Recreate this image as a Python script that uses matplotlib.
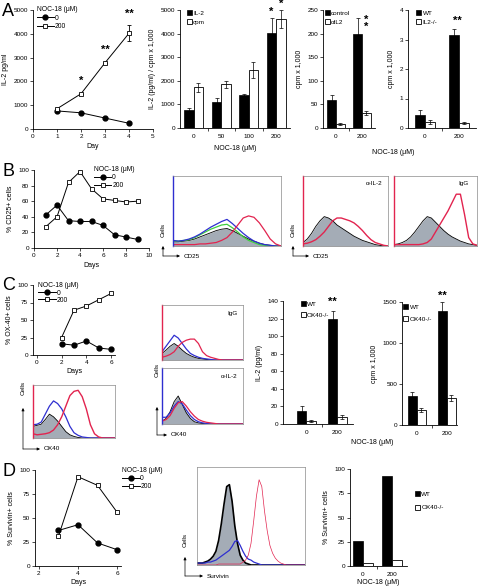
import numpy as np
import matplotlib
matplotlib.use('Agg')
import matplotlib.pyplot as plt
from matplotlib.patches import Patch
from matplotlib.lines import Line2D

plt.rcParams['font.family'] = ['Liberation Sans', 'DejaVu Sans']

W, H = 479, 588

# ---- panel A data ----
a1_days = [1, 2, 3, 4]
a1_noc0 = [760, 680, 460, 240]
a1_noc200 = [850, 1480, 2780, 4020]
a1_err200 = [0, 0, 0, 330]

a2_groups = ['0', '50', '100', '200']
a2_il2 = [750, 1090, 1380, 4010]
a2_il2_err = [80, 190, 40, 650]
a2_cpm = [1720, 1850, 2450, 4620]
a2_cpm_err = [200, 150, 330, 380]

a3_groups = ['0', '200']
a3_ctrl = [60, 200]
a3_ctrl_err = [10, 34]
a3_anti = [8, 31]
a3_anti_err = [2, 4]

a4_groups = ['0', '200']
a4_wt = [0.45, 3.15]
a4_wt_err = [0.15, 0.2]
a4_ko = [0.2, 0.17]
a4_ko_err = [0.08, 0.03]

# ---- panel B data ----
b1_days = [1, 2, 3, 4, 5, 6, 7, 8, 9]
b1_noc0 = [42, 55, 35, 34, 34, 29, 17, 14, 11]
b1_noc200 = [27, 40, 84, 98, 76, 63, 61, 59, 60]

# flow histograms, heights on a 21-channel grid
b2_gray = [0.06, 0.06, 0.07, 0.08, 0.10, 0.13, 0.16, 0.19, 0.22, 0.24, 0.25, 0.22, 0.18, 0.14, 0.10, 0.07, 0.04, 0.02, 0.01, 0, 0]
b2_blue = [0.08, 0.07, 0.08, 0.10, 0.13, 0.17, 0.22, 0.27, 0.31, 0.35, 0.38, 0.32, 0.25, 0.18, 0.12, 0.07, 0.04, 0.02, 0.01, 0, 0]
b2_green = [0.07, 0.07, 0.08, 0.09, 0.12, 0.16, 0.20, 0.24, 0.27, 0.30, 0.31, 0.26, 0.20, 0.13, 0.08, 0.05, 0.02, 0.01, 0, 0, 0]
b2_red = [0.02, 0.02, 0.02, 0.02, 0.02, 0.03, 0.03, 0.04, 0.05, 0.08, 0.12, 0.20, 0.30, 0.40, 0.43, 0.41, 0.33, 0.22, 0.10, 0.03, 0]
b3_gray = [0.05, 0.10, 0.18, 0.28, 0.36, 0.42, 0.40, 0.36, 0.30, 0.26, 0.22, 0.18, 0.14, 0.11, 0.08, 0.06, 0.04, 0.02, 0.01, 0, 0]
b3_red = [0.03, 0.04, 0.06, 0.09, 0.14, 0.20, 0.28, 0.36, 0.40, 0.40, 0.38, 0.36, 0.33, 0.28, 0.22, 0.15, 0.09, 0.05, 0.03, 0.01, 0]
b4_gray = [0.02, 0.03, 0.05, 0.08, 0.13, 0.20, 0.28, 0.36, 0.42, 0.40, 0.34, 0.28, 0.22, 0.17, 0.13, 0.10, 0.07, 0.05, 0.03, 0.02, 0.01]
b4_red = [0.02, 0.02, 0.02, 0.02, 0.02, 0.02, 0.02, 0.03, 0.05, 0.10, 0.20, 0.30, 0.40, 0.50, 0.62, 0.74, 0.74, 0.45, 0.12, 0.03, 0.01]

# ---- panel C data ----
c1_days = [2, 3, 4, 5, 6]
c1_noc0 = [16, 14, 20, 10, 8]
c1_noc200 = [25, 64, 70, 79, 88]

c2_gray = [0.22, 0.24, 0.26, 0.35, 0.45, 0.40, 0.32, 0.22, 0.12, 0.06, 0.03, 0.01, 0, 0, 0, 0, 0, 0, 0, 0, 0]
c2_blue = [0.25, 0.26, 0.30, 0.45, 0.60, 0.70, 0.65, 0.55, 0.40, 0.22, 0.10, 0.05, 0.02, 0.01, 0, 0, 0, 0, 0, 0, 0]
c2_red = [0.08, 0.06, 0.07, 0.08, 0.10, 0.15, 0.25, 0.40, 0.60, 0.80, 0.88, 0.90, 0.78, 0.55, 0.25, 0.08, 0.02, 0, 0, 0, 0]
c3_gray = [0.12, 0.18, 0.25, 0.30, 0.25, 0.18, 0.12, 0.08, 0.05, 0.03, 0.02, 0.01, 0, 0, 0, 0, 0, 0, 0, 0, 0]
c3_blue = [0.15, 0.25, 0.35, 0.45, 0.40, 0.30, 0.20, 0.12, 0.08, 0.05, 0.03, 0.02, 0.01, 0, 0, 0, 0, 0, 0, 0, 0]
c3_red = [0.05, 0.07, 0.10, 0.15, 0.25, 0.32, 0.36, 0.38, 0.38, 0.30, 0.15, 0.08, 0.05, 0.03, 0.01, 0, 0, 0, 0, 0, 0]
c4_gray = [0.05, 0.10, 0.22, 0.40, 0.50, 0.35, 0.20, 0.10, 0.04, 0.02, 0.01, 0, 0, 0, 0, 0, 0, 0, 0, 0, 0]
c4_blue = [0.12, 0.12, 0.20, 0.32, 0.40, 0.36, 0.25, 0.15, 0.08, 0.04, 0.02, 0.01, 0, 0, 0, 0, 0, 0, 0, 0, 0]
c4_red = [0.05, 0.08, 0.15, 0.28, 0.38, 0.40, 0.32, 0.22, 0.14, 0.08, 0.05, 0.03, 0.02, 0.01, 0, 0, 0, 0, 0, 0, 0]

c5_groups = ['0', '200']
c5_wt = [15, 119]
c5_wt_err = [6, 10]
c5_ko = [3, 8]
c5_ko_err = [1, 2]

c6_groups = ['0', '200']
c6_wt = [355, 1390]
c6_wt_err = [45, 105]
c6_ko = [180, 325]
c6_ko_err = [25, 35]

# ---- panel D data ----
d1_days = [3, 4, 5, 6]
d1_noc0 = [37, 43, 24, 17]
d1_noc200 = [31, 93, 84, 56]

# 41-channel grid
d2_gray = [0.02, 0.02, 0.02, 0.03, 0.04, 0.06, 0.09, 0.14, 0.25, 0.42, 0.62, 0.80, 0.82, 0.65, 0.40, 0.22, 0.10, 0.05, 0.02, 0.01,
           0, 0, 0, 0, 0, 0, 0, 0, 0, 0, 0, 0, 0, 0, 0, 0, 0, 0, 0, 0, 0]
d2_blue = [0.02, 0.02, 0.02, 0.02, 0.03, 0.03, 0.04, 0.05, 0.07, 0.09, 0.11, 0.13, 0.15, 0.19, 0.24, 0.25, 0.20, 0.14, 0.09, 0.06,
           0.05, 0.03, 0.02, 0.01, 0, 0, 0, 0, 0, 0, 0, 0, 0, 0, 0, 0, 0, 0, 0, 0, 0]
d2_red = [0, 0, 0, 0, 0, 0, 0, 0, 0.01, 0.01, 0.01, 0.01, 0.01, 0.01, 0.01, 0.01, 0.01, 0.03, 0.05, 0.10,
          0.22, 0.45, 0.70, 0.87, 0.80, 0.55, 0.35, 0.20, 0.12, 0.07, 0.04, 0.02, 0.01, 0, 0, 0, 0, 0, 0, 0, 0]

d3_groups = ['0', '200']
d3_wt = [26, 93]
d3_ko = [3, 6]

GRAY = '#a4acb6'
RED = '#e2244f'
BLUE = '#2f2fd0'
GREEN = '#3ecf3e'
FS = 4.6


def rect(l, t, r, b):
    return [l / W, 1 - b / H, (r - l) / W, (b - t) / H]


def style(ax):
    for s in ['top', 'right']:
        ax.spines[s].set_visible(False)
    for s in ['left', 'bottom']:
        ax.spines[s].set_linewidth(0.6)
    ax.tick_params(length=2, width=0.5, labelsize=FS, pad=1.5)


def line_panel(ax, days, y0, y200, err200=None):
    style(ax)
    ax.plot(days, y0, color='k', lw=0.7, marker='o', mfc='k', mec='k', ms=3.5, clip_on=False)
    ax.errorbar(days, y200, yerr=err200, color='k', lw=0.7, marker='s', mfc='w', mec='k', ms=3.5,
                mew=0.6, elinewidth=0.6, capsize=1.5, capthick=0.6, clip_on=False)


def line_legend(ax, anchor, spacing=0.2):
    h0 = Line2D([], [], color='k', lw=0.7, marker='o', mfc='k', mec='k', ms=3.5)
    h2 = Line2D([], [], color='k', lw=0.7, marker='s', mfc='w', mec='k', ms=3.5, mew=0.6)
    ax.legend([h0, h2], ['0', '200'], title='NOC-18 (μM)', loc='upper left', bbox_to_anchor=anchor,
              frameon=False, fontsize=FS + 0.3, title_fontsize=FS + 0.3, handlelength=2.6,
              handletextpad=0.1, borderaxespad=0, borderpad=0, labelspacing=spacing, alignment='left')


def bar_panel(ax, labels, vb, eb, vw, ew, w):
    style(ax)
    x = np.arange(len(labels))
    ek = dict(ecolor='k', elinewidth=0.5, capsize=1.4, capthick=0.5)
    ax.bar(x - w / 2, vb, w, color='k', edgecolor='k', lw=0.5, yerr=eb, error_kw=ek)
    ax.bar(x + w / 2, vw, w, color='w', edgecolor='k', lw=0.6, yerr=ew, error_kw=ek)
    ax.set_xticks(x)
    ax.set_xticklabels(labels)
    ax.tick_params(axis='x', length=0, pad=4)
    ax.set_xticks(x[:-1] + 0.5, minor=True)
    ax.tick_params(axis='x', which='minor', length=2, width=0.5)


def bar_legend(ax, names, anchor, spacing=0.5):
    hs = [Patch(facecolor='k', edgecolor='k', lw=0.5), Patch(facecolor='w', edgecolor='k', lw=0.6)]
    ax.legend(hs, names, loc='upper left', bbox_to_anchor=anchor, frameon=False, fontsize=FS,
              handlelength=0.8, handleheight=0.8, handletextpad=0.2, borderaxespad=0, borderpad=0,
              labelspacing=spacing)


def flow(ax, gray, lines, edge=None, gray_lw=0.6):
    ch = np.linspace(0, 1, len(gray))
    ax.fill_between(ch, gray, color=GRAY, lw=0)
    ax.plot(ch, gray, color='k', lw=gray_lw)
    for ys, c, lw in lines:
        ax.plot(np.linspace(0, 1, len(ys)), ys, color=c, lw=lw)
    ax.set_xlim(0, 1)
    ax.set_ylim(0, 1)
    ax.set_xticks([])
    ax.set_yticks([])
    for s in ax.spines.values():
        s.set_color('#8a8a8a')
        s.set_linewidth(0.5)
    if edge:
        ax.spines['left'].set_color(edge)
        ax.spines['left'].set_linewidth(1.0)


fig = plt.figure(figsize=(W / 100, H / 100), dpi=100)

# ---------------- A ----------------
ax = fig.add_axes(rect(33, 10, 153, 129))
line_panel(ax, a1_days, a1_noc0, a1_noc200, a1_err200)
ax.set_xlim(0, 5)
ax.set_ylim(0, 5000)
ax.set_xticks(range(6))
ax.set_yticks(range(0, 5001, 1000))
ax.set_xlabel('Day', fontsize=FS + 0.4, labelpad=3)
ax.set_ylabel('IL-2 pg/ml', fontsize=FS + 0.4, labelpad=3)
for xs, ys, s in [(2, 1800, '*'), (3, 3100, '**'), (4, 4620, '**')]:
    ax.text(xs, ys, s, ha='center', va='bottom', fontsize=8, fontweight='bold')
line_legend(ax, (0.03, 1.03))

ax = fig.add_axes(rect(180, 10, 290, 128))
bar_panel(ax, a2_groups, a2_il2, a2_il2_err, a2_cpm, a2_cpm_err, 0.34)
ax.set_xlim(-0.5, 3.5)
ax.set_ylim(0, 5000)
ax.set_yticks(range(0, 5001, 1000))
ax.set_ylabel('IL-2 (pg/ml) / cpm x 1,000', fontsize=FS + 0.4, labelpad=3)
ax.set_xlabel('NOC-18 (μM)', fontsize=FS + 0.4, labelpad=5)
ax.text(3 - 0.17, 4720, '*', ha='center', va='bottom', fontsize=8, fontweight='bold', clip_on=False)
ax.text(3 + 0.17, 5050, '*', ha='center', va='bottom', fontsize=8, fontweight='bold', clip_on=False)
bar_legend(ax, ['IL-2', 'cpm'], (0.06, 1.0))

ax = fig.add_axes(rect(323, 10, 375, 128))
bar_panel(ax, a3_groups, a3_ctrl, a3_ctrl_err, a3_anti, a3_anti_err, 0.34)
ax.set_xlim(-0.5, 1.5)
ax.set_ylim(0, 250)
ax.set_yticks(range(0, 251, 50))
ax.set_ylabel('cpm x 1,000', fontsize=FS + 0.4, labelpad=3)
ax.text(1.15, 204, '*\n*', ha='center', va='bottom', fontsize=8, fontweight='bold', linespacing=0.55)
bar_legend(ax, ['control', 'αIL2'], (0.03, 1.0))

ax = fig.add_axes(rect(408, 10, 476, 128))
bar_panel(ax, a4_groups, a4_wt, a4_wt_err, a4_ko, a4_ko_err, 0.3)
ax.set_xlim(-0.5, 1.5)
ax.set_ylim(0, 4)
ax.set_yticks(range(0, 5))
ax.set_ylabel('cpm x 1,000', fontsize=FS + 0.4, labelpad=3)
ax.text(0.95, 3.45, '**', ha='center', va='bottom', fontsize=8, fontweight='bold')
bar_legend(ax, ['WT', 'IL2-/-'], (0.12, 1.0))

# ---------------- B ----------------
ax = fig.add_axes(rect(34, 170, 149, 248))
line_panel(ax, b1_days, b1_noc0, b1_noc200)
ax.set_xlim(0, 10)
ax.set_ylim(0, 100)
ax.set_xticks(range(0, 11, 2))
ax.set_yticks(range(0, 101, 20))
ax.set_xlabel('Days', fontsize=FS + 0.4, labelpad=3)
ax.set_ylabel('% CD25+ cells', fontsize=FS + 0.4, labelpad=3)
line_legend(ax, (0.52, 1.05), spacing=0.15)

ax = fig.add_axes(rect(173, 176, 281, 246))
flow(ax, b2_gray, [(b2_green, GREEN, 0.9), (b2_blue, BLUE, 0.9), (b2_red, RED, 0.9)], edge=BLUE)

ax = fig.add_axes(rect(303, 176, 388, 246))
flow(ax, b3_gray, [(b3_red, RED, 1.0)], edge=RED)
ax.text(0.93, 0.93, 'α-IL-2', transform=ax.transAxes, ha='right', va='top', fontsize=FS)

ax = fig.add_axes(rect(394, 176, 477, 246))
flow(ax, b4_gray, [(b4_red, RED, 1.0)], edge=RED)
ax.text(0.9, 0.93, 'IgG', transform=ax.transAxes, ha='right', va='top', fontsize=FS)

# ---------------- C ----------------
ax = fig.add_axes(rect(33, 285, 115, 355))
line_panel(ax, c1_days, c1_noc0, c1_noc200)
ax.set_xlim(-0.3, 6.3)
ax.set_ylim(0, 100)
ax.set_xticks(range(0, 7, 2))
ax.set_yticks(range(0, 101, 25))
ax.set_xlabel('Days', fontsize=FS + 0.4, labelpad=2)
ax.set_ylabel('% OX-40+ cells', fontsize=FS + 0.4, labelpad=3)
line_legend(ax, (0.06, 1.04), spacing=0.05)

ax = fig.add_axes(rect(33, 385, 115, 438))
flow(ax, c2_gray, [(c2_blue, BLUE, 0.9), (c2_red, RED, 1.0)], edge=RED)

ax = fig.add_axes(rect(162, 305, 243, 360))
flow(ax, c3_gray, [(c3_blue, BLUE, 0.9), (c3_red, RED, 0.9)], edge=RED)
ax.text(0.93, 0.9, 'IgG', transform=ax.transAxes, ha='right', va='top', fontsize=FS)

ax = fig.add_axes(rect(162, 368, 243, 424))
flow(ax, c4_gray, [(c4_blue, BLUE, 0.9), (c4_red, RED, 0.9)], edge=BLUE)
ax.text(0.93, 0.9, 'α-IL-2', transform=ax.transAxes, ha='right', va='top', fontsize=FS)

ax = fig.add_axes(rect(283, 301, 353, 424))
bar_panel(ax, c5_groups, c5_wt, c5_wt_err, c5_ko, c5_ko_err, 0.3)
ax.set_xlim(-0.75, 1.5)
ax.set_ylim(0, 140)
ax.set_yticks(range(0, 141, 20))
ax.set_ylabel('IL-2 (pg/ml)', fontsize=FS + 0.4, labelpad=3)
ax.text(0.85, 133, '**', ha='center', va='bottom', fontsize=8, fontweight='bold')
bar_legend(ax, ['WT', 'OX40-/-'], (0.25, 1.0), spacing=0.9)

ax = fig.add_axes(rect(402, 302, 457, 425))
bar_panel(ax, c6_groups, c6_wt, c6_wt_err, c6_ko, c6_ko_err, 0.3)
ax.set_xlim(-0.5, 1.35)
ax.set_ylim(0, 1500)
ax.set_yticks(range(0, 1501, 500))
ax.set_ylabel('cpm x 1,000', fontsize=FS + 0.4, labelpad=3)
ax.text(0.85, 1510, '**', ha='center', va='bottom', fontsize=8, fontweight='bold', clip_on=False)
bar_legend(ax, ['WT', 'OX40-/-'], (0.02, 0.98), spacing=0.9)

# ---------------- D ----------------
ax = fig.add_axes(rect(35, 470, 121, 566))
line_panel(ax, d1_days, d1_noc0, d1_noc200)
ax.set_xlim(1.8, 6.2)
ax.set_ylim(0, 100)
ax.set_xticks([2, 4, 6])
ax.set_yticks(range(0, 101, 25))
ax.set_xlabel('Days', fontsize=FS + 0.4, labelpad=2)
ax.set_ylabel('% Survivin+ cells', fontsize=FS + 0.4, labelpad=3)
line_legend(ax, (1.01, 1.03), spacing=0.15)

ax = fig.add_axes(rect(197, 467, 305, 565))
flow(ax, d2_gray, [(d2_blue, BLUE, 0.9), (d2_red, RED, 0.5)], gray_lw=1.2)

ax = fig.add_axes(rect(350, 469, 407, 566))
bar_panel(ax, d3_groups, d3_wt, None, d3_ko, None, 0.35)
ax.set_xlim(-0.45, 1.52)
ax.set_ylim(0, 100)
ax.set_yticks(range(0, 101, 25))
ax.set_ylabel('% Survivin+ cells', fontsize=FS + 0.4, labelpad=3)
ax.set_xlabel('NOC-18 (μM)', fontsize=FS + 0.4, labelpad=2)
bar_legend(ax, ['WT', 'OX40-/-'], (1.14, 0.77), spacing=1.2)

# ---------------- overlay: letters, shared labels, flow axes arrows ----------------
ov = fig.add_axes([0, 0, 1, 1])
ov.set_xlim(0, W)
ov.set_ylim(H, 0)
ov.axis('off')
ov.patch.set_alpha(0)

for lx, ly, s in [(2, 12, 'A'), (2, 172, 'B'), (2, 286, 'C'), (2, 472, 'D')]:
    ov.text(lx, ly, s, fontsize=13, ha='left', va='center')

ov.text(393, 152, 'NOC-18 (μM)', fontsize=FS + 0.4, ha='center', va='center')
ov.text(372, 443, 'NOC-18 (μM)', fontsize=FS + 0.4, ha='center', va='center')

ap = dict(arrowstyle='-|>', lw=0.5, color='k', mutation_scale=4, shrinkA=0, shrinkB=0)
for cx, cy, up_y, right_x, lab, cells_y in [(163, 256, 246, 180, 'CD25', 230),
                                            (293, 256, 246, 309, 'CD25', 230),
                                            (23, 449, 408, 40, 'OX40', 388),
                                            (157, 435, 407, 167, 'OX40', 370),
                                            (185, 576, 557, 203, 'Survivin', 540)]:
    ov.annotate('', xy=(cx, up_y), xytext=(cx, cy), arrowprops=ap)
    ov.annotate('', xy=(right_x, cy), xytext=(cx, cy), arrowprops=ap)
    ov.text(right_x + 4, cy, lab, fontsize=FS, ha='left', va='center')
    ov.text(cx, cells_y, 'Cells', fontsize=FS, rotation=90, ha='center', va='center')

fig.savefig('out.png', dpi=100)
